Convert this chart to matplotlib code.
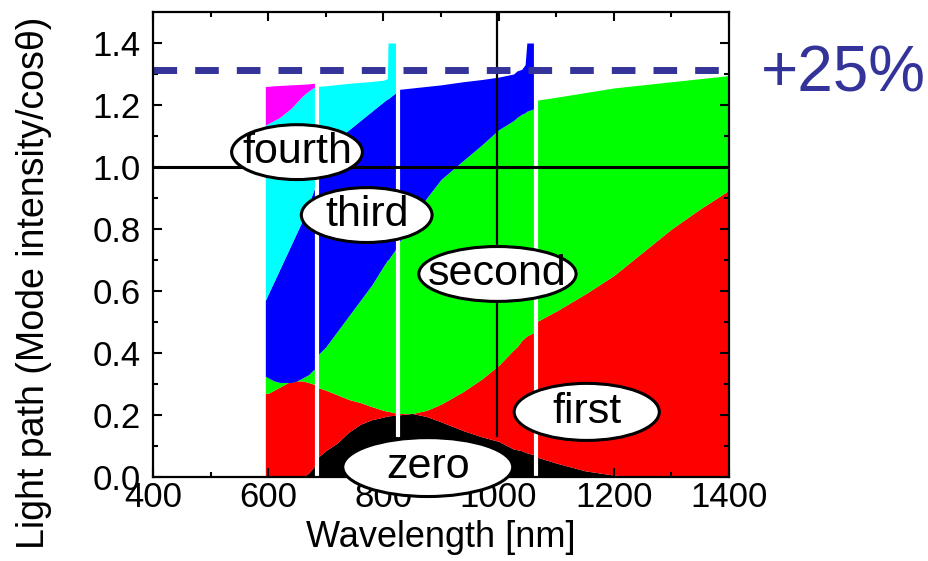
import matplotlib
matplotlib.use("Agg")
import matplotlib.pyplot as plt
from matplotlib.patches import Ellipse

plt.rcParams["font.family"] = ["Liberation Sans", "DejaVu Sans"]

# ---------------- data (cumulative tops of each diffraction order) ----------------
# segment A: 595-684 nm
wl_a = [595, 600, 610, 620, 630, 640, 650, 660, 670, 678, 684]
zero_a = [0.0, 0.0, 0.0, 0.0, 0.0, 0.0, 0.0, 0.0, 0.012, 0.03, 0.045]
first_a = [0.27, 0.27, 0.28, 0.29, 0.30, 0.31, 0.31, 0.31, 0.305, 0.30, 0.30]
second_a = [0.325, 0.32, 0.31, 0.305, 0.305, 0.305, 0.31, 0.32, 0.33, 0.345, 0.35]
third_a = [0.57, 0.59, 0.63, 0.67, 0.71, 0.75, 0.79, 0.83, 0.88, 0.92, 0.95]
fourth_a = [1.135, 1.14, 1.15, 1.16, 1.175, 1.19, 1.21, 1.23, 1.245, 1.255, 1.26]
fifth_a = [1.26, 1.26, 1.262, 1.263, 1.264, 1.265, 1.266, 1.267, 1.268, 1.27, 1.27]

# segment B: 684-825 nm
wl_b = [684, 700, 720, 740, 760, 780, 800, 807, 808, 825]
zero_b = [0.06, 0.085, 0.11, 0.145, 0.17, 0.185, 0.193, 0.197, 0.197, 0.2]
first_b = [0.29, 0.28, 0.265, 0.25, 0.24, 0.227, 0.215, 0.212, 0.212, 0.205]
second_b = [0.39, 0.42, 0.47, 0.52, 0.57, 0.62, 0.68, 0.70, 0.70, 0.745]
third_b = [1.0, 1.05, 1.09, 1.12, 1.15, 1.18, 1.21, 1.22, 1.22, 1.245]
fourth_b = [1.26, 1.262, 1.266, 1.27, 1.273, 1.276, 1.28, 1.285, 1.40, 1.40]

# segment C: 825-1065 nm
wl_c = [825, 850, 875, 900, 938, 970, 1000, 1026, 1032, 1040, 1046, 1049, 1065]
zero_c = [0.2, 0.205, 0.195, 0.178, 0.15, 0.13, 0.115, 0.09, 0.088, 0.085, 0.08, 0.078, 0.07]
first_c = [0.205, 0.205, 0.215, 0.235, 0.275, 0.315, 0.36, 0.41, 0.42, 0.44, 0.45, 0.455, 0.47]
second_c = [0.75, 0.83, 0.9, 0.96, 1.02, 1.07, 1.12, 1.15, 1.16, 1.17, 1.175, 1.18, 1.19]
third_c = [1.25, 1.255, 1.26, 1.265, 1.275, 1.282, 1.29, 1.30, 1.31, 1.315, 1.33, 1.40, 1.40]

# segment D: 1065-1400 nm
wl_d = [1065, 1100, 1150, 1200, 1250, 1300, 1350, 1400]
zero_d = [0.065, 0.045, 0.02, 0.006, 0.0, 0.0, 0.0, 0.0]
first_d = [0.50, 0.535, 0.59, 0.65, 0.725, 0.80, 0.865, 0.925]
second_d = [1.215, 1.225, 1.24, 1.255, 1.265, 1.275, 1.285, 1.295]

# Rayleigh cut-off wavelengths (white gaps) and their lower ends
cutoff_wl = [684, 825, 1065]
cutoff_bottom = [0.0, 0.13, 0.0]

reference_level = 1.0
enhanced_level = 1.3125        # +25 %
marker_wl = 997
marker_bottom = 0.13

order_names = ["zero", "first", "second", "third", "fourth", "fifth"]
order_colors = ["#000000", "#ff0000", "#00ff00", "#0000ff", "#00ffff", "#ff00ff"]

label_texts = ["fourth", "third", "second", "first", "zero"]
label_x = [650, 771, 998, 1153, 877]
label_y = [1.048, 0.845, 0.655, 0.21, 0.032]
label_w = [227, 227, 273, 252, 295]
label_h = [0.177, 0.177, 0.177, 0.184, 0.19]

x_ticks = [400, 600, 800, 1000, 1200, 1400]
y_ticks = [0.0, 0.2, 0.4, 0.6, 0.8, 1.0, 1.2, 1.4]

segments = [
    (wl_a, [zero_a, first_a, second_a, third_a, fourth_a, fifth_a]),
    (wl_b, [zero_b, first_b, second_b, third_b, fourth_b]),
    (wl_c, [zero_c, first_c, second_c, third_c]),
    (wl_d, [zero_d, first_d, second_d]),
]

# ---------------- figure ----------------
fig = plt.figure(figsize=(9.29, 5.61), dpi=100)
ax = fig.add_axes([153 / 929, 84 / 561, 576 / 929, 465 / 561])

for wl, tops in segments:
    lower = [0.0] * len(wl)
    for i, top in enumerate(tops):
        ax.fill_between(wl, lower, top, color=order_colors[i], lw=0, zorder=1)
        lower = top

for xc, yb in zip(cutoff_wl, cutoff_bottom):
    ax.vlines(xc, yb, 1.45, colors="white", lw=3.0, zorder=2)

ax.axhline(reference_level, color="black", lw=2.2, zorder=3)
ax.vlines(marker_wl, marker_bottom, 1.5, colors="black", lw=1.6, zorder=3)
ax.axhline(enhanced_level, color="#333399", lw=5, linestyle=(0, (3.4, 2.6)), zorder=3)

for t, x, y, w, h in zip(label_texts, label_x, label_y, label_w, label_h):
    ax.add_patch(Ellipse((x, y), w, h, facecolor="white", edgecolor="black",
                         lw=2.2, zorder=4, clip_on=False))
    ax.text(x, y, t, ha="center", va="center", fontsize=31,
            zorder=5, clip_on=False)

ax.set_xlim(400, 1400)
ax.set_ylim(0, 1.5)
ax.set_xticks(x_ticks)
ax.set_xticks(range(400, 1401, 100), minor=True)
ax.set_yticks(y_ticks)
ax.set_yticks([i / 10 for i in range(0, 15)], minor=True)
ax.set_yticklabels([f"{v:.1f}" for v in y_ticks])
ax.set_xticklabels([str(v) for v in x_ticks])

ax.tick_params(axis="both", which="both", direction="in", width=1.5, colors="black")
ax.tick_params(axis="both", which="major", length=6.5, labelsize=25)
ax.tick_params(axis="both", which="minor", length=3.6)
ax.tick_params(axis="x", which="major", pad=3)
ax.tick_params(axis="y", which="major", pad=9)
ax.tick_params(top=True, right=True, which="both")
for s in ax.spines.values():
    s.set_linewidth(1.6)
    s.set_zorder(3.5)

ax.set_xlabel("Wavelength [nm]", fontsize=26, labelpad=4)
ax.set_ylabel("Light path (Mode intensity/cosθ)", fontsize=27)
ax.yaxis.set_label_coords(-0.175, 0.417)

fig.text(843 / 929, 1 - 75 / 561, "+25%", color="#333399", fontsize=46,
         ha="center", va="center")

fig.savefig("out.png", dpi=100)
